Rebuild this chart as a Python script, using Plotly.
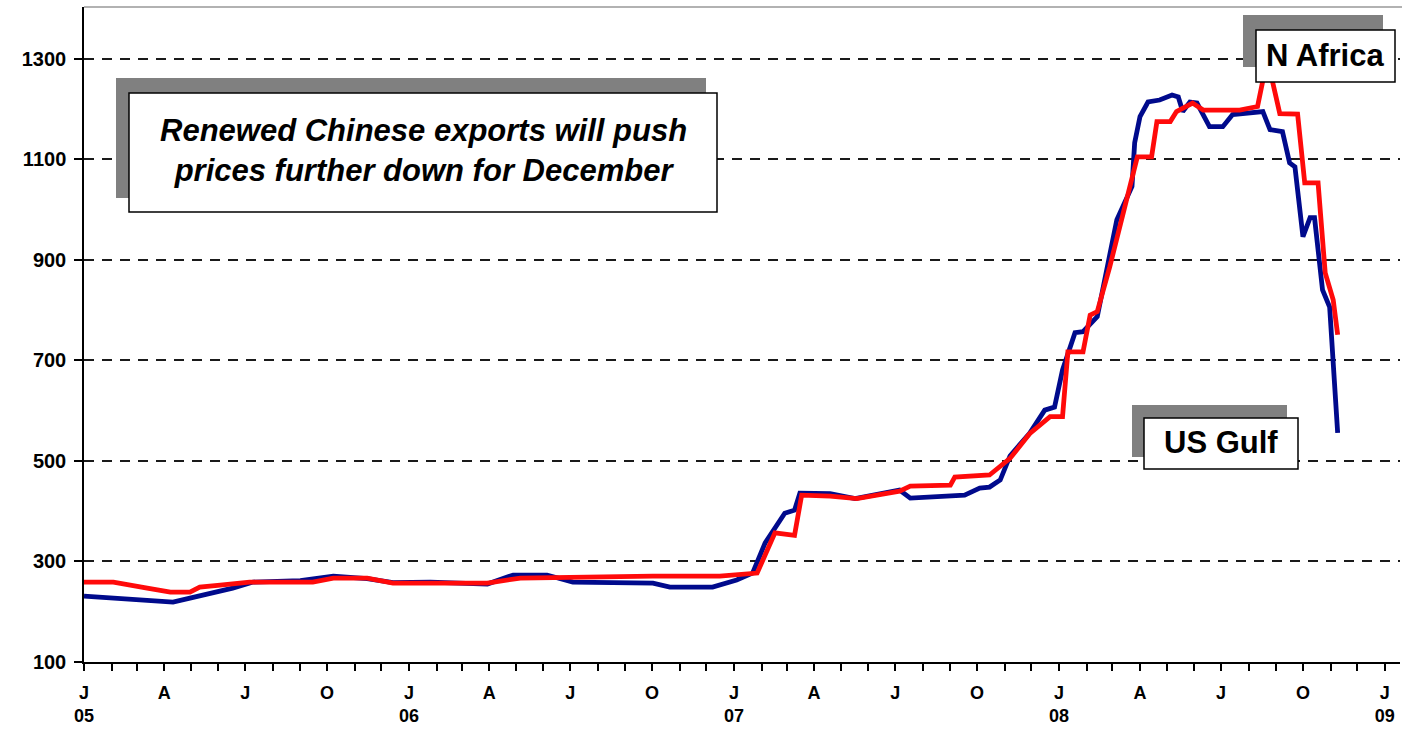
import plotly.graph_objects as go

# ---- data ----
us_gulf_dates = [
    "2005-01-01", "2005-02-03", "2005-03-13", "2005-04-11", "2005-04-30", "2005-05-26",
    "2005-06-17", "2005-07-10", "2005-09-01", "2005-10-08", "2005-11-15", "2005-12-14",
    "2006-01-25", "2006-03-30", "2006-04-28", "2006-06-05", "2006-07-04", "2006-10-02",
    "2006-10-21", "2006-12-08", "2007-01-04", "2007-01-22", "2007-02-05", "2007-02-27",
    "2007-03-10", "2007-03-16", "2007-04-19", "2007-05-17", "2007-06-14", "2007-07-06",
    "2007-07-18", "2007-09-17", "2007-10-04", "2007-10-15", "2007-10-27", "2007-11-07",
    "2007-11-29", "2007-12-16", "2007-12-27", "2008-01-05", "2008-01-19", "2008-01-28",
    "2008-02-13", "2008-03-06", "2008-03-23", "2008-03-26", "2008-04-01", "2008-04-10",
    "2008-04-23", "2008-05-07", "2008-05-14", "2008-05-19", "2008-05-27", "2008-06-04",
    "2008-06-18", "2008-07-03", "2008-07-14", "2008-07-30", "2008-08-17", "2008-08-25",
    "2008-09-08", "2008-09-16", "2008-09-22", "2008-10-01", "2008-10-09", "2008-10-14",
    "2008-10-23", "2008-10-31", "2008-11-04", "2008-11-09",
]
us_gulf_values = [
    231, 227, 221, 219, 227, 237,
    247, 259, 262, 271, 266, 258,
    259, 255, 273, 273, 259, 257,
    249, 249, 263, 277, 337, 396,
    402, 436, 435, 425, 435, 442,
    426, 432, 446, 448, 462, 510,
    555, 601, 607, 681, 755, 757,
    787, 980, 1046, 1133, 1185, 1214,
    1218, 1228, 1224, 1195, 1214, 1212,
    1165, 1165, 1189, 1192, 1195, 1159,
    1155, 1093, 1085, 946, 984, 984,
    840, 806, 701, 556,
]

n_africa_dates = [
    "2005-01-01", "2005-02-03", "2005-03-13", "2005-04-08", "2005-04-30", "2005-05-11",
    "2005-06-03", "2005-07-06", "2005-09-15", "2005-10-08", "2005-11-15", "2005-12-14",
    "2006-01-25", "2006-03-30", "2006-05-06", "2006-07-01", "2006-10-02", "2006-12-16",
    "2007-01-22", "2007-01-27", "2007-02-16", "2007-03-10", "2007-03-18", "2007-04-19",
    "2007-05-19", "2007-06-14", "2007-07-06", "2007-07-18", "2007-09-01", "2007-09-06",
    "2007-10-15", "2007-11-07", "2007-11-29", "2007-12-22", "2008-01-05", "2008-01-11",
    "2008-01-28", "2008-02-05", "2008-02-13", "2008-02-27", "2008-03-13", "2008-03-29",
    "2008-04-14", "2008-04-20", "2008-05-05", "2008-05-12", "2008-05-30", "2008-06-11",
    "2008-07-22", "2008-08-06", "2008-08-11", "2008-08-22", "2008-09-05", "2008-09-25",
    "2008-10-03", "2008-10-18", "2008-10-26", "2008-11-04", "2008-11-09",
]
n_africa_values = [
    259, 259, 247, 239, 239, 249,
    253, 259, 259, 267, 267, 257,
    257, 257, 267, 269, 271, 271,
    277, 277, 357, 352, 432, 430,
    425, 432, 440, 450, 452, 468,
    472, 505, 554, 588, 588, 717,
    717, 790, 797, 886, 993, 1105,
    1105, 1175, 1175, 1195, 1212, 1198,
    1198, 1205, 1205, 1300, 1191, 1190,
    1053, 1053, 874, 820, 751,
]

y_ticks = [100, 300, 500, 700, 900, 1100, 1300]
month_letters = ["J", "", "", "A", "", "", "J", "", "", "O", "", ""]
years = [2005, 2006, 2007, 2008]

# monthly ticks with quarter letters and year under January
tick_vals, tick_text = [], []
for yr in years:
    for m in range(12):
        tick_vals.append(f"{yr}-{m + 1:02d}-01")
        lab = month_letters[m]
        if m == 0:
            lab = f"{lab}<br>{str(yr)[2:]}"
        tick_text.append(lab)
tick_vals.append("2009-01-01")
tick_text.append("J<br>09")

FONT = "Liberation Sans, Arial, sans-serif"

fig = go.Figure()
fig.add_trace(go.Scatter(x=us_gulf_dates, y=us_gulf_values, mode="lines",
                         name="US Gulf", line=dict(color="#000A8C", width=4.8)))
fig.add_trace(go.Scatter(x=n_africa_dates, y=n_africa_values, mode="lines",
                         name="N Africa", line=dict(color="#FF0A0A", width=4.8)))

# plot area in pixels: x 84..1400, y 7..662
L, R, T, B = 84, 1400, 7, 662
def px(x):
    return (x - L) / (R - L)
def py(y):
    return (B - y) / (B - T)

shapes = []
def boxed(x0, y0, x1, y1, sx0, sy0, sx1, sy1):
    shapes.append(dict(type="rect", xref="paper", yref="paper",
                       x0=px(sx0), x1=px(sx1), y0=py(sy1), y1=py(sy0),
                       fillcolor="#808080", line=dict(width=0), layer="above"))
    shapes.append(dict(type="rect", xref="paper", yref="paper",
                       x0=px(x0), x1=px(x1), y0=py(y1), y1=py(y0),
                       fillcolor="white", line=dict(color="black", width=1.5), layer="above"))

boxed(129, 93, 717, 212, 116, 78, 706, 198)
boxed(1144, 418, 1298, 469, 1132, 405, 1287, 457)
boxed(1256, 30, 1395, 82, 1243, 15, 1383, 67)

# top frame line
shapes.append(dict(type="line", xref="paper", yref="paper", x0=0, x1=1.01, y0=1, y1=1,
                   line=dict(color="#999999", width=1.5), layer="above"))

annotations = [
    dict(xref="paper", yref="paper", x=px(423), y=py(151),
         text="<b><i>Renewed Chinese exports will push<br>prices further down for December</i></b>",
         showarrow=False, font=dict(family=FONT, size=31, color="black"),
         align="center", xanchor="center", yanchor="middle"),
    dict(xref="paper", yref="paper", x=px(1221), y=py(443),
         text="<b>US Gulf</b>", showarrow=False,
         font=dict(family=FONT, size=31, color="black"),
         xanchor="center", yanchor="middle"),
    dict(xref="paper", yref="paper", x=px(1325), y=py(56),
         text="<b>N Africa</b>", showarrow=False,
         font=dict(family=FONT, size=31, color="black"),
         xanchor="center", yanchor="middle"),
]

fig.update_layout(
    width=1402, height=729,
    margin=dict(l=L, r=1402 - R, t=T, b=729 - B),
    paper_bgcolor="white", plot_bgcolor="white",
    showlegend=False,
    shapes=shapes, annotations=annotations,
    font=dict(family=FONT, color="black"),
)
fig.update_xaxes(
    type="date", range=["2005-01-01", "2009-01-18"],
    tickmode="array", tickvals=tick_vals, ticktext=tick_text,
    ticks="outside", ticklen=7, tickwidth=1.5, tickcolor="black",
    showline=True, linecolor="black", linewidth=2,
    showgrid=False, zeroline=False, ticklabelstandoff=6,
    tickfont=dict(family=FONT, size=18, color="black", weight="bold"),
)
fig.update_yaxes(
    range=[100, 1403], tickmode="array", tickvals=y_ticks,
    ticks="outside", ticklen=8, tickwidth=1.5, tickcolor="black",
    showline=True, linecolor="black", linewidth=1.5,
    showgrid=True, gridcolor="#1a1a1a", gridwidth=2, griddash="10px,8px",
    zeroline=False, ticklabelstandoff=4,
    tickfont=dict(family=FONT, size=20, color="black", weight="bold"),
)

fig.write_html("out.html")
